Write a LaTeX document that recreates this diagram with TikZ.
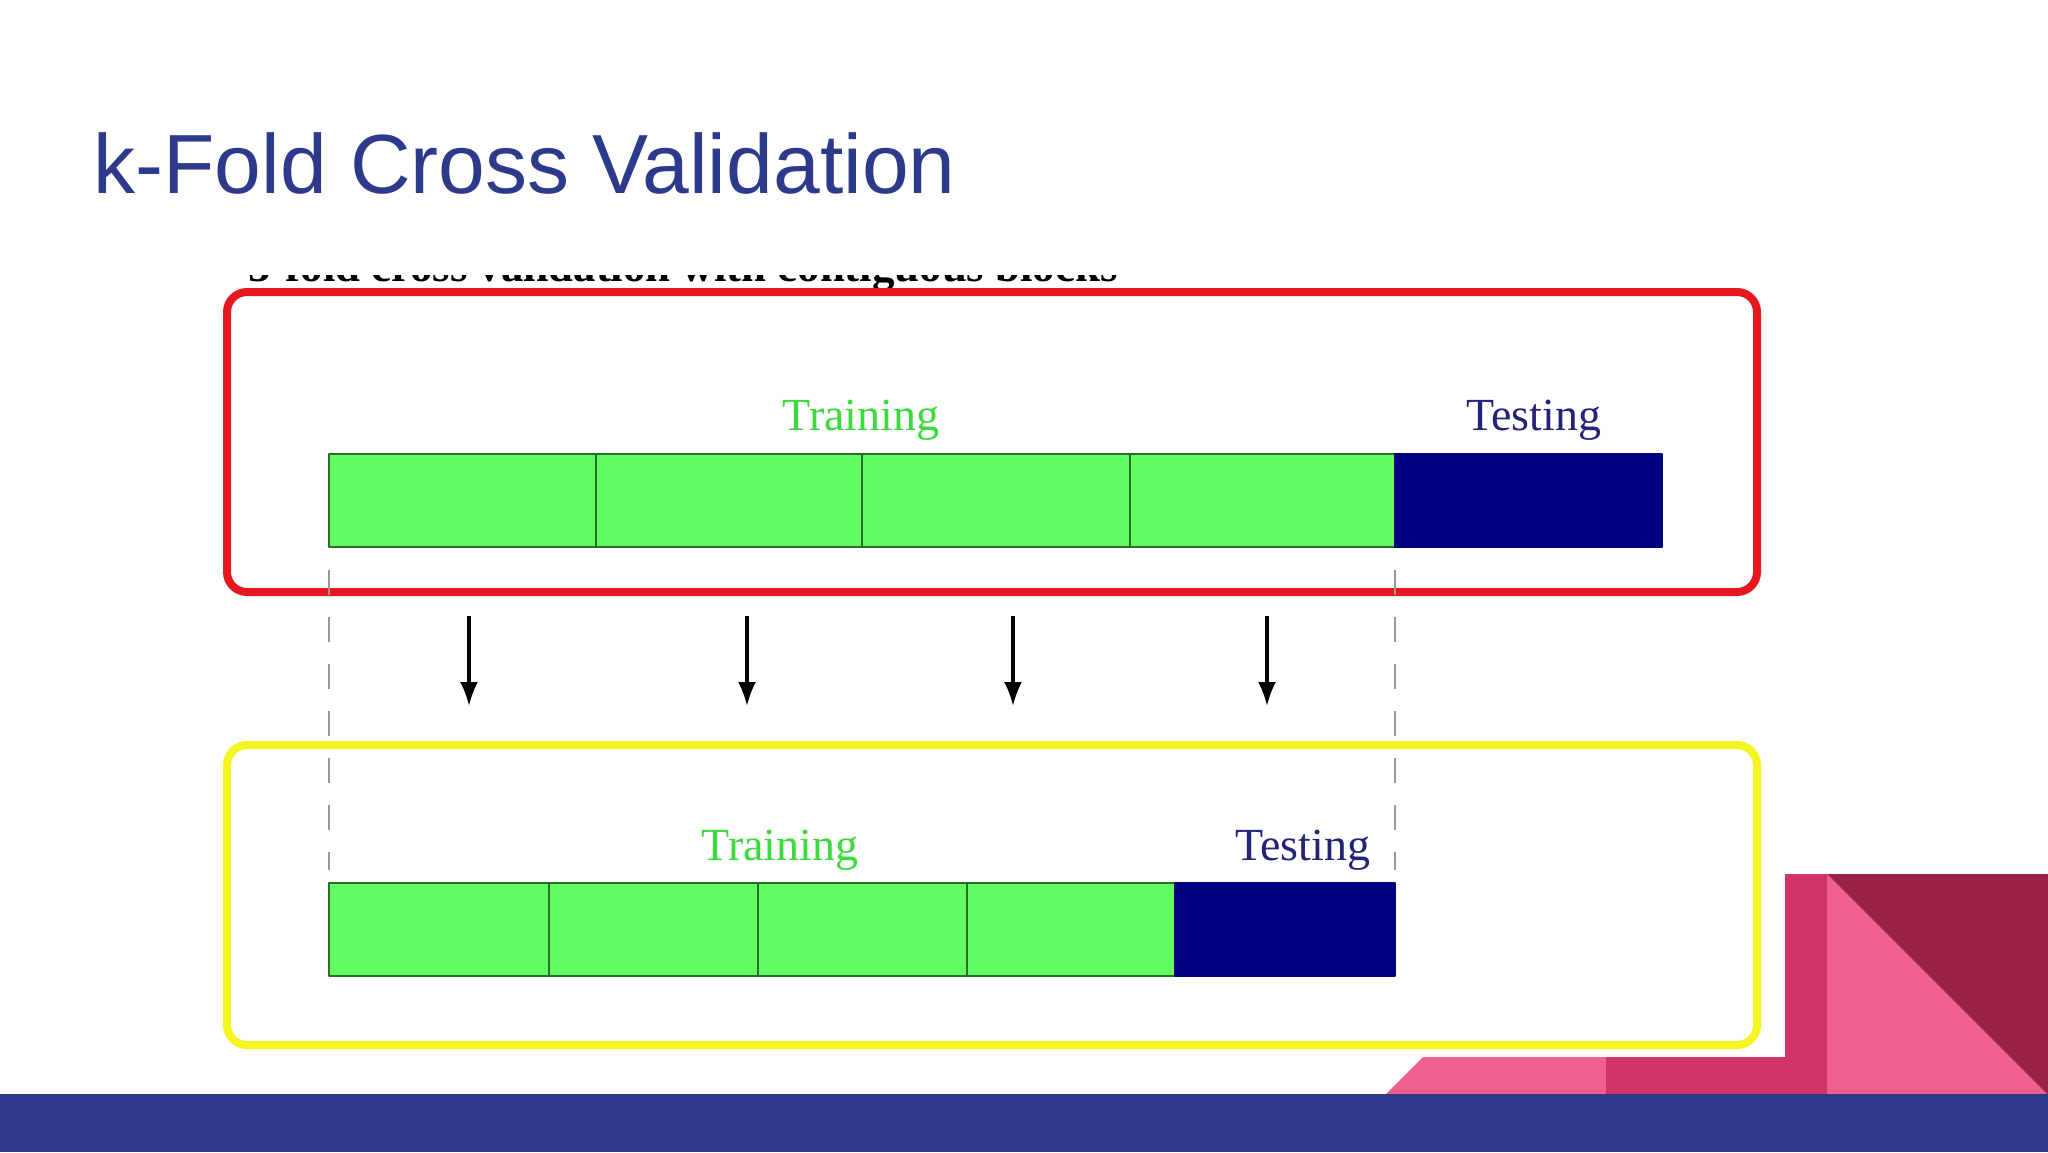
\documentclass[tikz,border=0pt]{standalone}
\usepackage{fontspec}
\usetikzlibrary{arrows.meta}
\newfontfamily\titlefont{Liberation Sans}
\newfontfamily\labelfont{Liberation Serif}
\definecolor{slideblue}{RGB}{45,58,140}
\definecolor{boxred}{RGB}{228,24,30}
\definecolor{boxyellow}{RGB}{244,244,32}
\definecolor{trainfill}{RGB}{98,252,98}
\definecolor{trainline}{RGB}{40,110,40}
\definecolor{trainlabel}{RGB}{60,218,60}
\definecolor{testfill}{RGB}{0,0,128}
\definecolor{testlabel}{RGB}{35,35,120}
\definecolor{pinkmid}{RGB}{209,51,103}
\definecolor{pinklight}{RGB}{239,96,142}
\definecolor{pinkdark}{RGB}{155,34,71}
\tikzset{
  trainseg/.style={draw=trainline,line width=1pt,fill=trainfill,inner sep=0pt,outer sep=0pt,minimum height=46.5pt},
  testseg/.style={draw=testfill,line width=1pt,fill=testfill,inner sep=0pt,outer sep=0pt,minimum height=46.5pt},
  foldlabel/.style={anchor=base,inner sep=0pt,font=\labelfont\fontsize{23}{23}\selectfont},
  guide/.style={draw=gray!80,line width=1pt,dash pattern=on 12.5pt off 11pt},
  foldarrow/.style={line width=1.6pt,-{Latex[length=12pt,width=9pt]}},
}
\begin{document}
\begin{tikzpicture}[x=0.5pt,y=-0.5pt,line cap=butt,line join=round]
  \useasboundingbox (0,0) rectangle (2048,1152);
  \fill[white] (0,0) rectangle (2048,1152);
  % title
  \node[anchor=base west,inner sep=0pt,text=slideblue,font=\titlefont\fontsize{42}{42}\selectfont] (title) at (93,193) {k-Fold Cross Validation};
  % caption cut off at the top of the picture
  \begin{scope}
    \clip (209,275) rectangle (1783,300);
    \node[anchor=base west,inner sep=0pt,font=\labelfont\bfseries\fontsize{22.4}{22.4}\selectfont] (caption) at (248,281) {5-fold cross validation with contiguous blocks};
  \end{scope}
  % frames
  \draw[boxred,line width=4pt,rounded corners=10pt] (227,292) rectangle (1757,592);
  \draw[boxyellow,line width=4pt,rounded corners=10pt] (227,745) rectangle (1757,1045);
  % upper bar
  \foreach \i/\a/\b in {1/329/596,2/596/862,3/862/1130,4/1130/1395}
    \node[trainseg,minimum width={(\b-\a)*0.5pt}] (tr\i) at ({(\a+\b)/2},500) {};
  \node[testseg,minimum width=133.5pt] (te) at (1528.5,500) {};
  \node[foldlabel,text=trainlabel] (trlab) at (861,430) {Training};
  \node[foldlabel,text=testlabel] (telab) at (1534,430) {Testing};
  % lower bar
  \foreach \i/\a/\b in {1/329/549,2/549/758,3/758/967,4/967/1175}
    \node[trainseg,minimum width={(\b-\a)*0.5pt}] (btr\i) at ({(\a+\b)/2},929) {};
  \node[testseg,minimum width=110pt] (bte) at (1285,929) {};
  \node[foldlabel,text=trainlabel] (btrlab) at (780,860) {Training};
  \node[foldlabel,text=testlabel] (btelab) at (1303,860) {Testing};
  % guides
  \draw[guide] ([yshift=-11.5pt]tr1.south west) -- ([yshift=6.5pt]btr1.north west);
  \draw[guide] ([yshift=-11.5pt]tr4.south east) -- ([yshift=6.5pt]bte.north east);
  % arrows
  \foreach \i/\x in {1/469,2/747,3/1013,4/1267} {
    \coordinate (as\i) at (\x,616);
    \coordinate (ae\i) at (\x,706);
    \draw[foldarrow] (as\i) -- (ae\i);
  }
  % slide decoration
  \fill[pinklight] (1385,1095) -- (1423,1057) -- (1606,1057) -- (1606,1095) -- cycle;
  \fill[pinkmid] (1606,1057) -- (1785,1057) -- (1785,874) -- (1827,874) -- (1827,1095) -- (1606,1095) -- cycle;
  \fill[pinklight] (1827,874) -- (2048,1095) -- (1827,1095) -- cycle;
  \fill[pinkdark] (1827,874) -- (2048,874) -- (2048,1095) -- cycle;
  \fill[slideblue] (0,1094) rectangle (2048,1152);
\end{tikzpicture}
\end{document}
